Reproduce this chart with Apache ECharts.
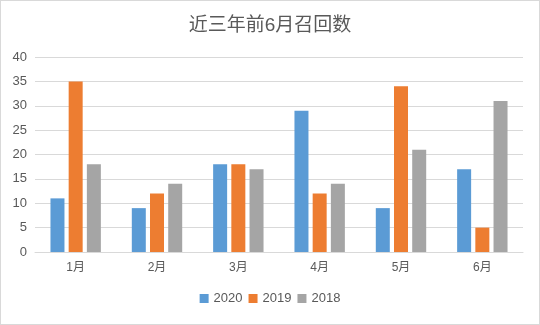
<!DOCTYPE html>
<html>
<head>
<meta charset="utf-8">
<script src="https://cdn.jsdelivr.net/npm/echarts@6/dist/echarts.min.js"></script>
<style>
html,body{margin:0;padding:0;background:#fff;}
#chart{width:538px;height:323px;border:1px solid #d9d9d9;}
</style>
</head>
<body>
<div id="chart"></div>
<script>
// 近三年前6月召回数
var months = ["1月", "2月", "3月", "4月", "5月", "6月"];
var data2020 = [11, 9, 18, 29, 9, 17];
var data2019 = [35, 12, 18, 12, 34, 5];
var data2018 = [18, 14, 17, 14, 21, 31];

var font = '"Liberation Sans", "Noto Sans CJK SC", sans-serif';
var chart = echarts.init(document.getElementById("chart"));
chart.setOption({
	animation: false,
	textStyle: { fontFamily: font },
	title: {
		text: "近三年前6月召回数",
		left: "center",
		top: 10,
		textStyle: { color: "#595959", fontSize: 19, fontWeight: "normal", fontFamily: font }
	},
	legend: {
		bottom: 14,
		left: "center",
		itemWidth: 9,
		itemHeight: 9,
		itemGap: 6,
		icon: "rect",
		textStyle: { color: "#595959", fontSize: 13, fontFamily: font },
		data: ["2020", "2019", "2018"]
	},
	grid: { left: 34, right: 16, top: 56, bottom: 72 },
	xAxis: {
		type: "category",
		data: months,
		axisLine: { lineStyle: { color: "#d9d9d9" } },
		axisTick: { show: false },
		axisLabel: { color: "#595959", fontSize: 12, margin: 10 }
	},
	yAxis: {
		type: "value",
		min: 0,
		max: 40,
		interval: 5,
		axisLine: { show: false },
		axisTick: { show: false },
		splitLine: { lineStyle: { color: "#d9d9d9" } },
		axisLabel: { color: "#595959", fontSize: 13, margin: 8 }
	},
	series: [
		{ name: "2020", type: "bar", data: data2020, barWidth: 14, barGap: "30%", itemStyle: { color: "#5B9BD5" } },
		{ name: "2019", type: "bar", data: data2019, barWidth: 14, barGap: "30%", itemStyle: { color: "#ED7D31" } },
		{ name: "2018", type: "bar", data: data2018, barWidth: 14, barGap: "30%", itemStyle: { color: "#A5A5A5" } }
	]
});
</script>
</body>
</html>
